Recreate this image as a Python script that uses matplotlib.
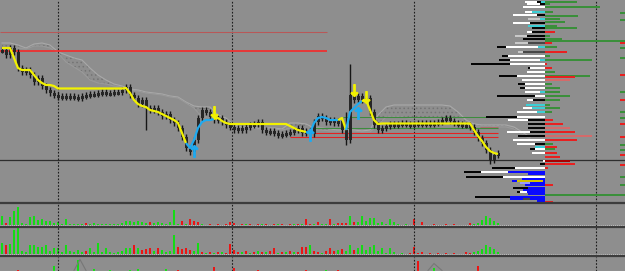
import numpy as np
import matplotlib.pyplot as plt
from matplotlib.lines import Line2D

# levels are read in pixels down from the top of the price panel (axis inverted)
# one entry per bar, bars every 4 px
close = [
    50, 55, 48, 52, 68, 72, 70, 75, 82, 78,
    86, 90, 93, 95, 97, 96, 97, 96, 97, 98,
    96, 95, 94, 94, 93, 92, 93, 93, 92, 92,
    90, 87, 95, 98, 104, 100, 108, 110, 108, 112,
    116, 114, 120, 123, 128, 137, 148, 152, 140, 118,
    110, 112, 117, 120, 118, 122, 125, 127, 130, 128,
    130, 127, 125, 124, 122, 130, 132, 131, 133, 135,
    134, 133, 132, 130, 128, 133, 131, 134, 122, 116,
    118, 122, 120, 123, 121, 130, 140, 95, 100, 96,
    100, 98, 112, 125, 130, 128, 126, 124, 125, 124,
    123, 124, 125, 124, 123, 124, 123, 124, 123, 122,
    120, 118, 121, 123, 124, 125, 125, 127, 132, 138,
    143, 150, 160, 155, 153]
# bar index -> (high, low) for the long wicks
spikes = {3: (45, 55), 31: (84, 92), 36: (100, 130), 48: (138, 156),
          86: (112, 145), 87: (64, 140), 122: (150, 164)}

# trailing stop line and its state (y = short / yellow, c = long / cyan)
trail = [
    48, 48, 48, 58, 68, 70, 70, 70, 75, 80,
    83, 85, 85, 86, 88.5, 88.5, 88.5, 88.5, 88.5, 88.5,
    88.5, 88.5, 88.5, 88.5, 88.5, 88.5, 88.5, 88.5, 88.5, 88.5,
    88.5, 88, 93, 100, 104, 106, 107, 110, 111, 112,
    114, 116, 118, 120, 123, 133, 143, 148, 140, 128,
    122, 120, 120, 119, 118, 121, 123, 124, 124, 124,
    124, 124, 124, 124, 124, 124, 124, 124, 124, 124,
    124, 124, 126, 128, 130, 131, 132, 133, 123, 118,
    117, 118, 120, 120, 120, 118, 130, 112, 108, 104,
    101, 100, 110, 120, 124, 123.5, 123.5, 123.5, 123.5, 123.5,
    123.5, 123.5, 123.5, 123.5, 123.5, 123.5, 123.5, 123.5, 123.5, 123.5,
    123.5, 123.5, 123.5, 123.5, 123.5, 123.5, 123.5, 123.5, 130, 136,
    141, 147, 151, 153, 154]
trail_state = "y" * 47 + "c" * 7 + "y" * 23 + "c" * 8 + "y" * 2 + "c" * 4 + "y" * 34

sell_bars, sell_lvl = [53, 88, 91], [112, 90, 97]
buy_bars, buy_lvl = [48, 77, 89], [151, 135, 113]

# cloud edges, one value every 2 bars
cloud_a = [
    43, 43, 45, 48, 44, 43, 45, 52, 55, 58,
    60, 68, 75, 80, 84, 86, 89, 90, 92, 93,
    94, 96, 97, 102, 106, 107, 107, 115, 118, 125,
    127, 127, 128, 128, 128, 129, 123, 123, 124, 128,
    128, 129, 130, 130, 130, 131, 130, 115, 107, 105,
    105, 105, 105, 105, 105, 105, 106, 112, 120, 124,
    125, 125, 125, 125, 127, 132, 137]
cloud_b = [
    49, 49, 48, 49, 46, 46, 48, 53, 62, 67,
    72, 80, 83, 84, 86, 87, 90, 91, 93, 94,
    95, 97, 98, 103, 108, 117, 117, 120, 123, 126,
    128, 128, 129, 129, 129, 130, 128, 128, 129, 130,
    130, 131, 131, 131, 131, 132, 132, 125, 117, 117,
    117, 118, 118, 118, 118, 118, 118, 120, 124, 126,
    126, 126, 127, 127, 129, 134, 139]

# horizontal levels (start / end in bars)
level_y = [31.5, 50.5, 117, 128, 133, 137, 127]
level_from = [-0.5, -0.5, 85.3, 77.8, 77.8, 72, 119.5]
level_to = [81.3, 81.3, 121, 124, 124, 124, 124]
level_col = ["#b85858", "#ff2020", "#3d8c3d", "#3d8c3d", "#e42222", "#e42222", "#a86a6a"]
level_lw = [0.75, 1.1, 0.75, 0.75, 0.8, 0.8, 0.75]

session_bars = [14, 57.5, 103, 148.5]

# volume profile, left side: colour codes and lengths from the axis outward
prof_y = [2, 4, 7, 12, 15, 19, 23, 26, 28, 32, 36, 39, 43, 47, 52, 56, 60, 64, 68,
          72, 76, 80, 84, 88, 92, 96, 100, 105, 108, 112, 117, 120, 124, 128, 132,
          136, 140, 144, 147, 149, 153, 161, 164, 168, 172, 174, 177, 179, 181, 183,
          185, 188, 190, 192, 194, 197, 199, 201]
prof_cols = ["ckw", "kw", "w", "cw", "kw", "cg", "kw", "c", "k", "kw", "kg", "k", "dg",
             "cwk", "dg", "wk", "cwk", "wk", "wk", "w", "wk", "w", "wk", "wk", "cw", "wk",
             "kw", "c", "cw", "cw", "wk", "kw", "k", "k", "kw", "k", "w", "kw", "c", "wk",
             "w", "w", "k", "wk", "bwk", "b", "wk", "b", "byb", "bl", "b", "bk", "b",
             "bwk", "b", "bk", "bdb", "b"]
prof_lens = [[4, 4, 12], [5, 13], [22], [13, 7], [8, 24], [5, 12], [15, 17], [17], [13],
             [13, 5], [18, 12], [22], [17, 13], [7, 32, 9], [22, 5], [37, 6], [5, 30, 11],
             [35, 39], [15, 2], [18], [28, 18], [23], [20, 7], [20, 5], [5, 15], [10, 38],
             [12, 6], [19], [13, 9], [8, 20], [28, 31], [17, 20], [17], [17], [15, 23],
             [27], [32], [10, 18], [10], [10, 5], [13], [2], [5], [30, 23], [37, 27, 17],
             [17], [42, 37], [23], [2, 26, 5], [15, 10], [20], [17, 15], [22], [18, 7, 3],
             [17], [35, 35], [15, 7, 13], [8]]
# right side
right_y = [2, 4, 7, 12, 16, 19, 22, 26, 28, 32, 36, 39, 41, 43, 47, 52, 56, 60, 64, 68,
           72, 76, 77, 80, 84, 88, 92, 96, 100, 105, 108, 112, 120, 124, 128, 132, 136,
           140, 144, 147, 149, 153, 157, 161, 164, 168, 185, 195, 202]
right_len = [32, 5, 55, 8, 33, 15, 20, 12, 32, 10, 5, 17, 80, 7, 12, 22, 5, 47, 2, 7,
             10, 45, 30, 25, 7, 15, 15, 25, 15, 5, 15, 7, 8, 18, 25, 30, 47, 32, 8, 12,
             10, 12, 15, 25, 30, 3, 8, 80, 8]
right_col = "GGGGGGGGGR" "GGGRGRGGRR" "GGRrGGGGGG" "GGRRrRrRGR" "GRRDRRRGR"
edge_y = [13, 20, 43, 48, 58, 75, 92, 100, 112, 118, 124, 137, 145, 150, 155, 165, 177, 185]
edge_col = "GGRGGRGRGGRRGGRRGG"

# volume histograms (negative = down bar)
vol1 = [
    9, -2, 8, 14, 18, 2, 1, 8, 9, 5,
    6, 4, 4, 2, 3, 1, 6, 1, 1, 1,
    1, -2, 1, 2, 1, 1, 1, 1, 1, 1,
    2, 4, 4, 3, 4, 3, 2, -3, 2, 3,
    2, 1, 3, 15, 1, -4, 1, -6, -4, -3,
    1, 0, -1, 0, -1, 0, -1, -3, -2, 0,
    -1, 1, -1, 0, -1, 1, -1, 0, -1, 1,
    -1, 0, -1, 1, -1, 1, -6, -1, 1, -3,
    1, 1, -6, 1, -2, -2, -2, 9, -3, 3,
    9, 4, 7, 7, 2, 3, 1, 6, 3, 1,
    0, 1, 0, -6, 0, -3, 0, 0, -1, 0,
    0, -1, 0, -1, 0, 0, 0, -2, 1, 2,
    5, 9, 7, 4, 2]
vol2 = [
    11, -9, 10, 24, 26, 3, 2, 9, 9, 7,
    7, 9, 3, 6, 6, 2, 9, 3, 2, 4,
    2, -3, 6, 2, 11, 2, 6, 2, 1, 2,
    3, 6, 6, -9, 6, -4, -5, -6, 3, -6,
    4, 2, 3, 19, -7, -5, -6, -4, 3, 11,
    -2, 1, -2, 1, -2, 2, -1, -10, -4, -2,
    2, -3, 1, -2, 3, -2, 2, -3, -6, 1,
    -2, 2, -3, 2, -2, -7, -7, 9, -3, -2,
    1, -3, -6, -3, 4, -5, 3, 9, -4, 6,
    9, 4, 7, 9, 3, 6, 1, 6, 2, 0,
    1, 0, -1, -7, -1, -2, 0, -1, 0, -1,
    0, -1, 0, -1, 0, 0, -2, -1, 2, 3,
    5, 9, 7, 5, 2]
p3_idx = [4, 13, 19, 23, 27, 32, 34, 41, 44, 53, 58, 64, 76, 81, 84, 104, 108, 119]
p3_val = [-1, 5, 11, 2, 1, 1, 2, 2, -1, -4, -3, -1, -1, 1, -1, -10, 3, -5]
p3_line_x = [18, 19.5, 21, np.nan, 106.5, 108, 110]
p3_line_y = [0, 11, 0, np.nan, 0, 7, 0]

# ─── colours ───
BG = "#8e8e8e"
INK = "#1c1c1c"
YEL = "#f2f200"
CYAN = "#1eaaf0"
CLOUD = "#a9a9a9"
SEP = "#3c3c3c"
VUP, VDN = "#14dc14", "#ec1414"
PCOL = {"w": "#ffffff", "k": "#050505", "c": "#3ccfd6", "g": "#c9c9c9", "d": "#474747",
        "b": "#0a0aff", "y": "#d2c400", "l": "#9a9aff"}
RCOL = {"G": "#3a8f3a", "R": "#e82020", "r": "#d46a6a", "D": "#a80000"}

W, H = 625, 271
XL = (-0.5, W / 4 - 0.5)
plt.rcParams["hatch.linewidth"] = 0.6

fig = plt.figure(figsize=(6.25, 2.71), dpi=100)
fig.patch.set_facecolor(BG)


def panel(top, bottom, **kw):
    a = fig.add_axes([0, 1 - bottom / H, 1, (bottom - top) / H], **kw)
    a.set_facecolor(BG)
    a.set_xlim(*XL)
    a.axis("off")
    return a


# ─── price panel ───
ax = panel(0, 203)
ax.set_ylim(203, 0)
n = len(close)
idx = np.arange(n)
c = np.array(close, float)
o = np.r_[c[0], c[:-1]]
top = np.minimum(o, c)
bot = np.maximum(o, c)
hi, lo = top - 3, bot + 3
for k, (h, l) in spikes.items():
    hi[k], lo[k] = min(hi[k], h), max(lo[k], l)

cx = np.arange(len(cloud_a)) * 2
ax.fill_between(cx, cloud_a, cloud_b, facecolor="none", edgecolor="#747474",
                hatch="....", lw=0, zorder=1)
ax.plot(cx, cloud_a, color=CLOUD, lw=0.8, zorder=1)
ax.plot(cx, cloud_b, color="#9a9a9a", lw=0.8, zorder=1)

for y, x0, x1, col, lw in zip(level_y, level_from, level_to, level_col, level_lw):
    ax.hlines(y, x0, x1, color=col, lw=lw, zorder=2.5)
ax.axhline(160, color="#2e2e2e", lw=0.9, zorder=2)
for xb in session_bars:
    ax.axvline(xb, color=INK, lw=0.8, ls=(0, (1.5, 1.5)), zorder=2)

ax.vlines(idx, hi, lo, color="#161616", lw=1.0, zorder=3)
ax.bar(idx, np.maximum(bot - top, 2.5), bottom=top, width=0.75, color="#262626",
       lw=0, zorder=3)

t = np.array(trail, float)
start = 0
for j in range(1, n + 1):
    if j == n or trail_state[j] != trail_state[start]:
        seg = slice(max(start - 1, 0), j)
        ax.plot(idx[seg], t[seg], color=YEL if trail_state[start] == "y" else CYAN,
                lw=1.6, zorder=4, solid_capstyle="butt")
        start = j

ax.scatter(sell_bars, sell_lvl, marker=r"$\downarrow$", s=70, color=YEL, zorder=5)
ax.scatter(buy_bars, buy_lvl, marker=r"$\uparrow$", s=70, color=CYAN, zorder=5)

# ─── volume profile (own axis in pixels, origin at the profile column) ───
axp = fig.add_axes([0, 1 - 203 / H, 1, 203 / H], facecolor="none")
axp.set_xlim(-545, 80)
axp.set_ylim(203, 0)
axp.axis("off")
for y, cols, lens in zip(prof_y, prof_cols, prof_lens):
    done = 0
    for code, L in zip(cols, lens):
        axp.barh(y, -L, left=-done, height=1.7, color=PCOL[code], lw=0)
        done += L
for y, L, code in zip(right_y, right_len, right_col):
    axp.barh(y, L, left=0, height=1.2 if L >= 80 else 1.7, color=RCOL[code], lw=0)
for y, code in zip(edge_y, edge_col):
    axp.barh(y, 5, left=75, height=1.5, color=RCOL[code], lw=0)

# ─── volume panels ───
for (t0, t1, ylim), vals in [((204, 226, (-1.5, 20.5)), vol1),
                             ((227, 256, (-2, 27)), vol2)]:
    av = panel(t0, t1)
    av.set_ylim(*ylim)
    v = np.array(vals)
    av.bar(idx, np.abs(v), width=0.5, color=np.where(v >= 0, VUP, VDN), lw=0)
    av.axhline(0, color="#cfcfcf", lw=0.7, ls=(0, (1, 1)))
    for xb in session_bars:
        av.axvline(xb, color=INK, lw=0.8, ls=(0, (1.5, 1.5)))

av3 = panel(257, 271)
av3.set_ylim(-0.5, 13.5)
v3 = np.array(p3_val)
av3.plot(p3_line_x, p3_line_y, color="#777777", lw=0.8)
av3.bar(p3_idx, np.abs(v3), width=0.5, color=np.where(v3 >= 0, VUP, VDN), lw=0)
for xb in session_bars:
    av3.axvline(xb, color=INK, lw=0.8, ls=(0, (1.5, 1.5)))

# panel separators
for ypx, col, lw in [(203.3, SEP, 1.6), (226.7, SEP, 1.6), (256.2, SEP, 1.6),
                     (270.6, "#d4d4d4", 0.8)]:
    fig.add_artist(Line2D([0, 1], [1 - ypx / H] * 2, transform=fig.transFigure,
                          color=col, lw=lw))

plt.savefig("out.png", dpi=100, facecolor=BG)
